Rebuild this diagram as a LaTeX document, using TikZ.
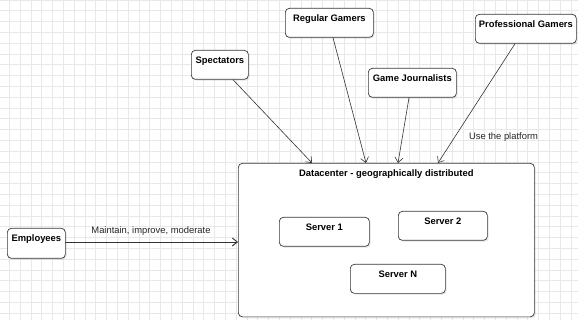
\documentclass[tikz,border=0pt]{standalone}
\usepackage{fontspec}
\setmainfont{Liberation Sans}
\usetikzlibrary{arrows.meta,shadows}
\tikzset{
  box/.style={draw=black!78, fill=white, rounded corners=4pt, line width=0.7pt,
    font=\fontsize{9.4}{11}\selectfont\bfseries, inner xsep=0pt, inner ysep=0pt,
    text height=13pt, text depth=16pt, anchor=north west,
    drop shadow={shadow xshift=1.5pt, shadow yshift=-1.5pt, opacity=0.15}},
  link/.style={->, draw=black!80, line width=0.6pt},
  gridline/.style={draw=black!9, line width=0.6pt},
  note/.style={font=\fontsize{9.4}{11}\selectfont, text=black!85},
}
\begin{document}
\begin{tikzpicture}[x=1pt, y=-1pt, line join=round, line cap=round, >={Straight Barb[length=5pt,width=8pt]}]
	\useasboundingbox (0,0) rectangle (578,320);
	\fill[white] (0,0) rectangle (578,320);
	\foreach \i in {0,...,53}
		\draw[gridline] (9.3+10.8*\i,0) -- (9.3+10.8*\i,320);
	\foreach \j in {0,...,29}
		\draw[gridline] (0,10.8*\j) -- (578,10.8*\j);
	% users
	\node[box, minimum width=88pt] (rg) at (285,8) {Regular Gamers};
	\node[box, minimum width=57pt] (spec) at (191,50) {Spectators};
	\node[box, minimum width=88pt] (gj) at (368,68) {Game Journalists};
	\node[box, minimum width=101pt] (pg) at (475,14) {Professional Gamers};
	\node[box, minimum width=58pt, text depth=17pt] (emp) at (7,228) {Employees};
	% datacenter
	\node[box, minimum width=296pt, text depth=140.5pt] (dc) at (238,163) {Datacenter - geographically distributed};
	\node[box, minimum width=90pt] (s1) at (279,217) {Server 1};
	\node[box, minimum width=89pt] (s2) at (398,211) {Server 2};
	\node[box, minimum width=95pt] (sn) at (350,264) {Server N};
	% connectors
	\draw[link] ([xshift=42pt]spec.south west) -- ([xshift=74pt]dc.north west);
	\draw[link] ([xshift=48pt]rg.south west) -- ([xshift=128pt]dc.north west);
	\draw[link] ([xshift=41pt]gj.south west) -- ([xshift=160pt]dc.north west);
	\draw[link] ([xshift=40pt]pg.south west) -- ([xshift=200pt]dc.north west);
	\draw[link, line width=0.9pt] (emp.east |- 0,242) coordinate (e1) -- (dc.west |- e1);
	\node[note] (use) at (503.5,137) {Use the platform};
	\node[note] (mim) at (151,231) {Maintain, improve, moderate};
\end{tikzpicture}
\end{document}
